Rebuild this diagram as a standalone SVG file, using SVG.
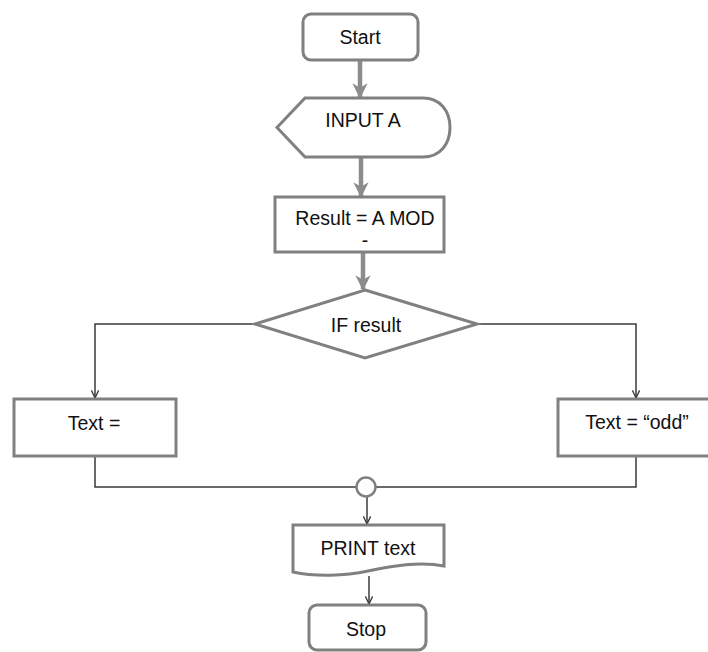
<svg xmlns="http://www.w3.org/2000/svg" width="708" height="652" viewBox="0 0 708 652">
  <defs>
    <style>
      .shape { fill: #ffffff; stroke: #808080; stroke-width: 3; }
      .label { font-family: "Liberation Sans", Arial, sans-serif; font-size: 19.5px; fill: #111111; text-anchor: middle; }
      .flow { fill: none; stroke: #8c8c8c; stroke-width: 4.5; }
      .link { fill: none; stroke: #3a3a3a; stroke-width: 1.5; }
    </style>
    <marker id="headThick" viewBox="0 0 10 10" refX="9" refY="5" markerWidth="3.4" markerHeight="3.4" orient="auto" markerUnits="strokeWidth">
      <path d="M0,0 L10,5 L0,10 L3,5 Z" fill="#8c8c8c"/>
    </marker>
    <marker id="headThin" viewBox="0 0 10 10" refX="9.5" refY="5" markerWidth="6" markerHeight="6" orient="auto" markerUnits="strokeWidth">
      <path d="M1,1 L9.5,5 L1,9" fill="none" stroke="#3a3a3a" stroke-width="1.5"/>
    </marker>
  </defs>

  <rect width="708" height="652" fill="#ffffff"/>

  <!-- connectors -->
  <g id="connectors">
    <line class="flow" x1="360" y1="61" x2="360" y2="97" marker-end="url(#headThick)"/>
    <line class="flow" x1="361" y1="158" x2="361" y2="196" marker-end="url(#headThick)"/>
    <line class="flow" x1="363" y1="253" x2="363" y2="289" marker-end="url(#headThick)"/>
    <path class="link" d="M255,324 H95 V398" marker-end="url(#headThin)"/>
    <path class="link" d="M477,324 H636 V398" marker-end="url(#headThin)"/>
    <path class="link" d="M95,457 V487 H356.5"/>
    <path class="link" d="M636,457 V487 H375.5"/>
    <line class="link" x1="367" y1="496.5" x2="367" y2="524" marker-end="url(#headThin)"/>
    <line class="link" x1="369" y1="576" x2="369" y2="604" marker-end="url(#headThin)"/>
  </g>

  <!-- start terminator -->
  <g id="start">
    <rect class="shape" x="303" y="14" width="115" height="46" rx="8"/>
    <text class="label" x="360" y="44">Start</text>
  </g>

  <!-- input display shape -->
  <g id="input-a">
    <path class="shape" d="M305,98 H423 C440,98 450,111 450,127.5 C450,144 440,157 423,157 H305 L277,127.5 Z"/>
    <text class="label" x="363" y="127">INPUT A</text>
  </g>

  <!-- modulo step -->
  <g id="result">
    <rect class="shape" x="275" y="197" width="169" height="55"/>
    <text class="label" x="365" y="225">Result = A MOD</text>
    <text class="label" x="365" y="247">-</text>
  </g>

  <!-- decision -->
  <g id="if-result">
    <path class="shape" d="M365,290 L477,324 L365,358 L255,324 Z"/>
    <text class="label" x="366" y="332">IF result</text>
  </g>

  <!-- left branch -->
  <g id="text-even">
    <rect class="shape" x="14" y="399" width="162" height="57"/>
    <text class="label" x="94" y="430">Text =</text>
  </g>

  <!-- right branch -->
  <g id="text-odd">
    <rect class="shape" x="558" y="399" width="162" height="57"/>
    <text class="label" x="637" y="429">Text = “odd”</text>
  </g>

  <!-- merge point -->
  <g id="merge">
    <circle cx="366" cy="487" r="9.5" fill="#ffffff" stroke="#808080" stroke-width="2.5"/>
  </g>

  <!-- output document shape -->
  <g id="print-text">
    <path class="shape" d="M293,525 H444 V566 C420,561 392,566 368,571 C345,576 316,577 293,572 Z"/>
    <text class="label" x="368" y="555">PRINT text</text>
  </g>

  <!-- stop terminator -->
  <g id="stop">
    <rect class="shape" x="309" y="605" width="117" height="45" rx="8"/>
    <text class="label" x="366" y="636">Stop</text>
  </g>
</svg>
